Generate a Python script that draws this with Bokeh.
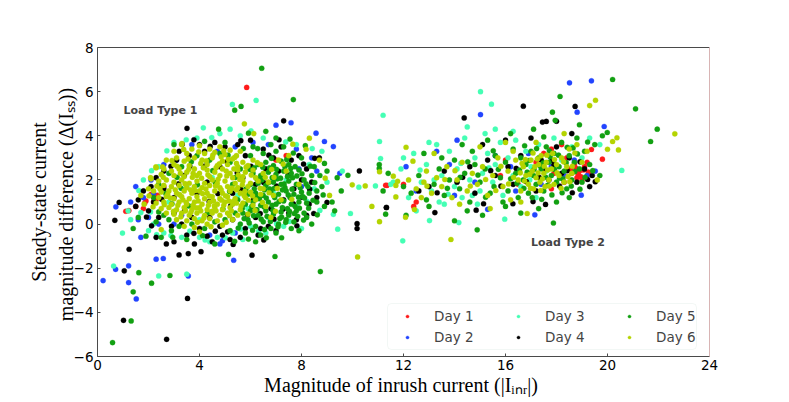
from bokeh.plotting import figure
from bokeh.models import (Range1d, FixedTicker, Legend, LegendItem, LinearAxis,
                          Label, BoxAnnotation)
from bokeh.embed import file_html
from bokeh.resources import INLINE

# ---------------- data ----------------
day_names = ["Day 1", "Day 2", "Day 3", "Day 4", "Day 5", "Day 6"]
day_colors = ["#ff1a1a", "#2244ff", "#44ffb4", "#000000", "#12a012", "#b4d400"]
x_ticks = [0, 4, 8, 12, 16, 20, 24]
y_ticks = [-6, -4, -2, 0, 2, 4, 6, 8]

day1_type1 = [(5.85, 6.19), (1.11, 0.58), (1.23, 0.61), (1.5, 0.8), (2.2, 1.2), (2.3, 1.1),
              (2.35, 1.3), (2.2, 1.0), (1.85, 0.95), (1.9, 1.05), (2.6, 1.7), (7.0, 2.9),
              (1.8, 0.7), (11.3, 1.76), (2.1, 1.35), (7.4, 3.1)]
day1_type2 = [(19.8, 2.94), (19.37, 3.38), (18.6, 2.3), (18.8, 2.1), (18.9, 2.4), (19.0, 2.0),
              (19.1, 2.6), (18.7, 2.7), (18.4, 3.0), (18.2, 3.6), (17.8, 3.4), (17.5, 3.2),
              (17.9, 2.3), (18.3, 1.9), (17.2, 2.8), (16.5, 1.8), (15.8, 2.2), (12.5, 1.0),
              (12.4, 0.8), (12.0, 1.8), (11.35, 1.75), (17.8, 1.6), (16.0, 2.9), (19.2, 2.8),
              (18.55, 2.5), (18.75, 2.55), (18.85, 2.25), (19.05, 2.45), (18.95, 2.15),
              (19.25, 2.35)]

day2_type1 = [(0.22, -2.56), (0.71, -2.05), (1.52, -3.39), (1.22, -2.65), (1.22, -1.89),
              (2.3, -1.59), (2.58, -1.56), (3.56, -2.35), (5.34, -1.64), (0.72, 0.78),
              (7.0, 4.48), (7.59, 4.59), (8.57, 4.12), (8.9, 3.74), (9.25, 3.51), (9.5, 2.3),
              (1.5, 1.7), (1.8, 1.2), (2.1, 2.0), (2.6, 2.7), (3.1, 2.9), (1.7, -0.6),
              (1.6, 0.2), (2.4, 0.0), (3.0, 0.0), (4.9, -0.75), (5.4, -0.4), (4.4, -0.5),
              (6.7, 3.6), (6.1, 3.7), (5.4, 3.5), (4.7, 3.3), (7.8, 3.4), (8.4, 3.0),
              (7.9, 2.5), (8.6, 2.4), (8.0, 1.7), (3.7, 3.6), (4.3, 2.8), (2.2, 1.4),
              (1.3, 1.0), (3.3, 0.4), (4.8, -0.9), (2.0, 0.3)]
day2_type2 = [(18.51, 6.4), (19.37, 6.49), (15.02, 4.96), (18.81, 5.07), (19.87, 4.42),
              (19.52, 2.4), (18.97, 1.31), (15.3, 0.67), (17.15, 0.42), (12.1, 2.6),
              (12.5, 1.5), (13.3, 3.3), (14.0, 1.3), (14.8, 1.9), (15.6, 3.1), (16.2, 2.6),
              (16.9, 3.2), (17.4, 1.8), (17.8, 2.6), (18.3, 2.2), (18.7, 2.9), (19.2, 2.2),
              (16.4, 1.5), (13.8, 2.7), (14.1, 3.8)]

day3_type1 = [(6.22, 5.6), (5.29, 5.42), (4.15, 4.36), (11.2, 4.93), (11.06, 3.74),
              (11.1, 2.97), (9.25, 0.44), (9.92, 0.48), (9.42, -0.23), (10.25, 1.67),
              (10.9, 1.73), (11.6, 1.9), (0.63, -1.9), (2.4, -2.35), (3.5, -2.27),
              (0.98, -0.41), (1.7, 0.52), (5.2, 4.3), (5.6, 4.0), (6.5, 3.9), (3.0, 3.7),
              (2.4, 2.6), (1.8, 2.0), (1.3, 0.2), (2.0, -0.3), (2.6, -0.4), (3.3, -0.6),
              (4.0, -0.6), (4.7, -0.6), (5.3, -0.4), (6.0, -0.1), (6.7, 0.3), (7.3, -0.1),
              (7.8, 0.8), (8.5, 1.6), (9.0, 1.9), (8.8, 3.3), (7.8, 3.6), (6.9, 1.4),
              (5.5, 1.3), (4.5, 2.1), (3.5, 1.7), (2.8, 1.0), (4.0, 0.2), (6.3, 2.7),
              (7.4, 2.0), (3.9, 3.9), (4.8, 4.1), (8.0, -0.2), (8.3, 2.7), (9.6, 2.4),
              (2.2, 0.0), (1.2, 0.6), (5.9, 0.7), (4.4, -0.8), (5.7, -0.7), (6.6, -0.4),
              (2.08, 0.55), (2.32, -0.48), (2.88, -0.52), (3.62, -0.32), (4.22, -0.72),
              (5.02, -0.62), (5.62, -0.22), (6.32, -0.32), (7.02, 0.02), (7.52, 0.12),
              (8.22, 1.02), (8.42, 3.42), (7.38, 3.72), (4.48, 3.92), (3.48, 3.82),
              (2.72, 3.32), (2.12, 2.42), (1.62, 1.52), (6.02, 4.22), (8.72, 0.62)]
day3_type2 = [(15.02, 6.0), (15.45, 5.43), (11.97, -0.76), (13.02, 0.16), (14.17, 0.07),
              (15.97, 0.22), (20.56, 2.43), (11.5, 1.8), (11.9, 2.5), (12.2, 1.2), (12.4, 3.2),
              (12.7, 1.9), (12.9, 2.7), (13.1, 1.5), (13.3, 3.6), (13.5, 2.2), (13.6, 0.9),
              (13.8, 3.3), (14.0, 1.7), (14.1, 2.5), (14.3, 1.2), (14.4, 3.9), (14.6, 2.0),
              (14.8, 3.0), (15.0, 1.5), (15.1, 2.3), (15.3, 3.2), (15.5, 1.9), (15.6, 2.7),
              (15.8, 3.7), (15.9, 1.3), (16.1, 3.0), (16.3, 2.2), (16.4, 3.8), (16.6, 1.7),
              (16.8, 3.3), (17.0, 2.6), (17.3, 3.6), (17.6, 2.4), (17.9, 3.9), (18.2, 2.9),
              (18.6, 3.5), (19.0, 3.0), (19.3, 3.9), (13.2, 2.0), (12.5, 0.6), (14.9, 0.9),
              (16.3, 4.2), (15.6, 4.3), (13.0, 3.7), (12.0, 3.0), (19.7, 3.6), (17.2, 1.2),
              (14.5, 4.4), (14.25, 2.75), (15.35, 2.55), (13.75, 1.35), (12.65, 2.45),
              (16.95, 2.0), (13.4, 1.0), (14.7, 1.3), (15.2, 4.1)]

day4_type1 = [(2.71, -5.22), (1.02, -4.36), (3.53, -3.37), (1.05, -2.12), (1.24, -1.14),
              (3.2, -1.4), (3.56, -1.34), (4.06, -1.25), (6.06, -1.41), (0.68, 0.17),
              (0.85, 0.98), (3.51, 4.34), (7.3, 4.68), (10.27, 2.41), (9.0, 0.98),
              (10.18, 0.02), (10.18, -0.2), (11.33, 0.75), (2.7, -0.9), (3.0, -0.8),
              (3.8, -0.9), (4.5, -0.8), (5.2, -0.7), (4.9, -0.5), (5.6, -0.6), (6.3, -0.5),
              (7.0, -0.3), (6.7, -0.1), (7.5, 0.5), (8.2, 0.4), (8.6, 1.2), (8.4, 1.9),
              (8.2, 2.5), (8.7, 3.0), (7.9, 3.1), (7.2, 3.5), (6.5, 3.4), (6.0, 3.8),
              (5.5, 3.6), (5.0, 3.5), (4.6, 3.7), (4.2, 3.3), (3.6, 3.1), (3.1, 2.9),
              (2.6, 2.4), (2.3, 2.1), (2.1, 1.7), (1.8, 1.5), (1.6, 1.1), (1.5, 0.8),
              (2.0, 0.6), (2.4, 0.3), (2.9, -0.1), (3.3, 0.0), (3.7, 0.3), (4.0, -0.2),
              (4.4, 0.3), (4.8, -0.1), (5.3, 0.2), (5.8, -0.2), (6.2, 0.3), (6.8, 0.7),
              (7.3, 1.1), (7.7, 1.6), (7.1, 2.4), (6.6, 2.5), (6.2, 1.8), (5.7, 2.1),
              (5.3, 1.4), (4.8, 2.6), (4.3, 1.9), (3.9, 1.4), (3.4, 2.2), (3.0, 1.2),
              (2.6, 1.6), (3.2, 3.3), (4.0, 3.6), (5.8, 3.1), (7.6, 2.9), (8.0, 2.0),
              (8.3, 0.9), (7.8, 0.2), (3.0, 0.5), (2.2, 1.0), (6.4, -0.2), (5.1, -0.35),
              (4.3, -0.55), (3.5, -0.5), (2.3, -0.6), (6.9, 3.0),
              (2.52, 1.12), (2.88, 2.62), (3.18, 1.82), (3.42, 0.62), (3.62, 2.62),
              (3.78, -0.42), (4.18, 2.62), (4.38, 1.02), (4.62, -0.32), (4.72, 1.38),
              (5.08, 2.82), (5.22, 0.82), (5.48, 2.32), (5.62, 1.58), (5.88, 0.42),
              (6.02, 2.62), (6.12, 1.12), (6.38, 0.48), (6.52, 1.88), (6.72, 3.12),
              (6.92, 0.22), (7.02, 1.72), (7.28, 0.68), (7.48, 2.22), (7.68, 0.92),
              (7.82, -0.08), (8.02, 1.22), (8.32, 1.58), (8.48, 0.48), (8.52, 2.98),
              (5.62, 3.78), (4.42, 3.52), (3.32, 3.62), (5.32, -0.92), (6.52, -0.72),
              (2.12, -0.08), (1.92, 0.32), (8.08, 2.72), (7.12, 3.82), (3.78, 3.82)]
day4_type2 = [(14.38, 4.81), (16.7, 5.34), (17.45, 4.62), (17.6, 4.65), (18.0, 4.66),
              (18.73, 5.33), (11.33, 0.75), (13.23, 0.52), (14.85, 0.63), (15.14, 0.92),
              (16.29, 0.92), (17.08, 1.02), (17.57, 0.89), (13.0, 1.7), (13.6, 2.4),
              (14.1, 1.9), (14.6, 2.6), (15.1, 3.6), (15.6, 2.2), (16.0, 3.8), (16.3, 1.8),
              (16.6, 3.1), (16.9, 2.3), (17.2, 1.5), (17.4, 2.9), (17.7, 2.0), (18.0, 3.5),
              (18.2, 2.3), (18.5, 3.0), (18.8, 1.9), (19.1, 2.5), (19.3, 1.7), (19.4, 2.2),
              (15.3, 2.9), (16.1, 2.6), (17.9, 2.7), (18.6, 4.1), (17.0, 3.9), (14.8, 1.4),
              (12.6, 1.5), (17.32, 2.12), (17.52, 2.48), (17.82, 2.88), (18.12, 1.72),
              (18.42, 2.42), (18.92, 2.82), (19.22, 2.02), (16.82, 1.92), (16.42, 2.52),
              (15.82, 1.72), (15.42, 2.42), (14.32, 2.12), (13.32, 1.42), (18.62, 1.42),
              (19.52, 1.92)]

day5_type1 = [(6.44, 7.06), (7.68, 5.64), (5.38, 5.16), (5.63, 5.33), (0.59, -5.37),
              (1.32, -4.39), (1.4, -3.07), (1.62, -2.2), (2.12, -2.68), (2.84, -2.33),
              (5.14, -1.37), (6.96, -1.47), (1.4, -0.2), (8.74, -2.15), (9.82, 2.21),
              (9.56, 1.5), (11.05, 2.7), (11.05, 2.52), (11.3, 0.45), (6.6, 4.2), (7.0, 3.9),
              (8.0, 3.0), (8.5, 2.6), (9.0, 2.4), (8.8, 1.7), (8.6, 1.0), (9.3, 0.6),
              (8.2, 0.3), (8.9, 0.8), (7.9, -0.3), (6.2, -0.8), (4.6, -0.9), (3.5, -0.7),
              (2.5, -0.6), (1.9, -0.55), (2.9, -0.3), (2.2, 1.2), (1.6, 0.3), (3.0, 3.6),
              (4.2, 3.75), (5.0, 3.7),
              (5.6, 0.0), (5.9, 0.2), (6.2, -0.1), (6.5, 0.1), (6.8, -0.2), (7.1, 0.0),
              (7.4, 0.2), (7.7, 0.1), (5.7, 0.5), (6.0, 0.6), (6.3, 0.4), (6.6, 0.6),
              (6.9, 0.45), (7.2, 0.55), (7.5, 0.4), (7.8, 0.6), (8.1, 0.5),
              (5.8, 0.9), (6.1, 1.0), (6.4, 0.85), (6.7, 1.0), (7.0, 0.9), (7.3, 1.05),
              (7.6, 0.9), (7.9, 1.0), (8.2, 0.95),
              (5.9, 1.35), (6.2, 1.4), (6.5, 1.3), (6.8, 1.45), (7.1, 1.35), (7.4, 1.5),
              (7.7, 1.35), (8.0, 1.45), (8.3, 1.4),
              (6.0, 1.8), (6.3, 1.85), (6.6, 1.75), (6.9, 1.9), (7.2, 1.8), (7.5, 1.95),
              (7.8, 1.8), (8.1, 2.0),
              (6.1, 2.3), (6.4, 2.2), (6.7, 2.35), (7.0, 2.25), (7.3, 2.4), (7.6, 2.3),
              (7.9, 2.45),
              (6.3, 2.7), (6.6, 2.8), (6.9, 2.65), (7.2, 2.85), (7.5, 2.7), (6.0, 3.1),
              (6.5, 3.2), (7.0, 3.3),
              (5.75, 0.25), (6.05, 0.8), (6.35, 1.15), (6.65, 0.35), (6.95, 1.2),
              (7.25, 0.75), (7.55, 1.2), (7.85, 0.35), (6.15, 1.6), (6.75, 1.6),
              (7.35, 1.65), (7.95, 1.65), (6.45, 2.0), (7.05, 2.05), (7.65, 2.1),
              (5.5, 1.1), (5.4, 0.5), (5.3, 1.8), (5.0, 0.2), (4.6, 0.1), (4.2, -0.2),
              (3.7, 0.0), (3.2, -0.1), (2.8, 0.2), (5.2, -0.3), (5.8, -0.4), (6.4, -0.5),
              (7.0, -0.4), (7.6, -0.2), (8.4, 0.0), (8.6, 1.5), (8.4, 2.2),
              (5.6, 2.5), (5.2, 2.8), (4.8, 3.2), (4.4, 2.9), (3.9, 3.1), (3.3, 2.6),
              (2.8, 2.3), (2.4, 1.8), (2.6, 0.4), (2.3, 0.1), (7.3, 3.5), (6.8, 3.6),
              (5.95, 0.05), (6.55, -0.25), (7.15, 0.25), (7.45, 0.7), (6.25, 0.65),
              (6.85, 0.85), (7.75, 0.8), (8.05, 1.25), (7.25, 1.55), (6.55, 1.55),
              (6.85, 2.1), (7.45, 2.15), (6.25, 2.05), (8.25, 1.7), (6.15, 2.55),
              (6.75, 2.55), (7.35, 2.6), (7.75, 2.6),
              (5.52, -0.18), (5.68, 0.72), (5.82, 1.58), (5.97, 2.48), (6.08, -0.28),
              (6.12, 0.38), (6.22, 1.22), (6.33, 1.98), (6.42, 0.22), (6.48, 2.58),
              (6.53, 0.78), (6.62, 1.18), (6.71, 1.88), (6.78, 0.12), (6.82, 2.98),
              (6.88, 0.62), (6.93, 1.62), (7.02, 2.48), (7.08, -0.12), (7.12, 1.02),
              (7.18, 2.08), (7.22, 0.32), (7.32, 1.82), (7.38, 0.08), (7.42, 2.92),
              (7.48, 1.32), (7.53, 0.58), (7.58, 2.52), (7.63, 1.58), (7.72, 0.48),
              (7.82, 2.18), (7.88, 1.22), (7.92, 0.72), (8.02, 2.28), (8.08, 0.18),
              (8.12, 1.18), (8.18, 1.82), (8.28, 0.72), (8.35, 2.62), (8.45, 1.08),
              (8.52, 1.88), (8.62, 0.42), (8.72, 2.2), (8.85, 1.32), (5.42, 2.12),
              (5.18, 1.48), (4.92, 0.68), (4.62, 1.88), (4.32, 0.52), (3.92, 1.78),
              (3.58, 0.82), (3.28, 1.62), (2.92, 0.92), (2.68, 1.38), (3.12, 2.12),
              (3.68, 2.82), (4.52, 2.42), (5.12, 3.12), (5.72, 3.42), (6.28, 3.42),
              (6.62, -0.62), (7.22, -0.62), (5.92, -0.68), (5.38, -0.78), (4.12, -0.52),
              (2.95, -0.6), (2.4, 0.55), (8.9, 2.75), (9.2, 1.0), (9.4, 2.1), (7.55, 3.85),
              (5.92, 4.12), (4.75, 4.3), (6.1, 3.5), (7.68, 3.22), (8.15, 3.55)]
day5_type2 = [(18.14, 5.78), (20.2, 6.55), (21.1, 5.22), (21.95, 4.3), (21.69, 3.74),
              (19.99, 4.15), (17.84, 5.07), (17.88, 0.05), (14.89, -0.26), (14.0, 0.15),
              (12.3, 1.4), (12.6, 2.2), (12.9, 1.1), (13.2, 1.8), (13.4, 2.5), (13.6, 1.3),
              (13.8, 2.0), (14.0, 2.9), (14.2, 1.6), (14.4, 2.3), (14.6, 1.0), (14.8, 2.7),
              (15.0, 1.9), (15.2, 2.5), (15.4, 1.4), (15.6, 3.1), (15.8, 2.1), (16.0, 2.8),
              (16.1, 1.5), (16.3, 3.4), (16.4, 2.3), (16.5, 1.2), (16.6, 3.0), (16.7, 2.0),
              (16.8, 2.7), (16.9, 1.4), (17.0, 3.3), (17.1, 2.2), (17.2, 1.8), (17.3, 3.0),
              (17.4, 2.5), (17.5, 1.5), (17.6, 3.5), (17.7, 2.8), (17.8, 2.2), (17.9, 3.2),
              (18.0, 1.9), (18.1, 2.6), (18.2, 3.7), (18.3, 2.4), (18.4, 1.6), (18.5, 3.1),
              (18.6, 2.0), (18.7, 2.8), (18.8, 3.9), (18.9, 2.5), (19.0, 1.9), (19.1, 3.3),
              (19.3, 2.7), (19.5, 3.6), (19.7, 2.2), (19.8, 4.0), (12.1, 0.4), (12.0, 1.7),
              (13.0, 0.8), (14.3, 3.6), (15.3, 3.8), (16.0, 0.8), (16.6, 0.5), (17.3, 0.7),
              (18.0, 1.0), (18.5, 1.2), (13.5, 3.0), (14.7, 3.3), (15.9, 1.0), (16.2, 4.1),
              (17.1, 4.3), (17.95, 4.7), (18.9, 4.5), (12.8, 3.2), (11.4, 2.3), (11.2, 1.5),
              (15.1, 0.4), (14.5, 0.6), (17.35, 2.65), (17.65, 1.75), (16.85, 2.35),
              (18.25, 2.05), (16.45, 1.85), (17.75, 3.05), (16.2, 2.05), (17.05, 1.2),
              (18.65, 3.45), (15.55, 1.7), (17.5, 3.95), (16.75, 3.55),
              (16.55, 2.45), (16.72, 1.62), (16.92, 2.88), (17.12, 2.48), (17.22, 3.42),
              (17.42, 1.12), (17.48, 2.78), (17.58, 2.12), (17.72, 3.32), (17.82, 1.32),
              (17.92, 2.48), (18.08, 3.12), (18.12, 2.08), (18.22, 1.42), (18.38, 2.78),
              (18.42, 3.48), (18.58, 1.72), (18.72, 2.38), (18.82, 3.18), (18.92, 1.58),
              (19.12, 2.12), (19.22, 3.72), (19.42, 2.42), (15.72, 2.48), (15.52, 3.32),
              (15.22, 1.22), (14.92, 2.22), (14.52, 2.82), (14.22, 2.12), (13.72, 1.62)]

day6_type1 = [(3.3, 3.6), (3.7, 3.4), (4.0, 3.55), (4.4, 3.4), (4.8, 3.5), (5.2, 3.35),
              (5.6, 3.3), (3.5, 3.2), (4.2, 3.2), (4.6, 3.25), (5.0, 3.15), (5.45, 3.1),
              (2.7, 2.9), (3.1, 3.0), (3.4, 2.85), (3.8, 3.0), (4.1, 2.9), (4.5, 3.0),
              (4.9, 2.85), (5.3, 2.95), (5.7, 2.8), (6.1, 2.9), (3.0, 2.7), (3.6, 2.65),
              (4.3, 2.7), (4.7, 2.65), (5.1, 2.7), (5.5, 2.6), (5.9, 2.65), (6.4, 2.7),
              (2.3, 2.55), (2.6, 2.5), (2.9, 2.4), (3.2, 2.5), (3.5, 2.35), (3.8, 2.5),
              (4.0, 2.3), (4.3, 2.45), (4.6, 2.35), (4.9, 2.5), (5.2, 2.3), (5.5, 2.45),
              (5.8, 2.35), (6.1, 2.45), (6.5, 2.3), (2.5, 2.25), (3.0, 2.2), (3.4, 2.15),
              (3.9, 2.2), (4.4, 2.15), (4.8, 2.2), (5.3, 2.1), (5.7, 2.15), (6.2, 2.1),
              (2.1, 2.05), (2.4, 1.95), (2.7, 2.0), (3.0, 1.9), (3.3, 2.0), (3.6, 1.85),
              (3.9, 1.95), (4.2, 1.85), (4.5, 2.0), (4.7, 1.85), (5.0, 1.95), (5.4, 1.85),
              (5.7, 1.95), (6.0, 1.85), (6.3, 1.95), (6.7, 1.9), (2.6, 1.75), (2.9, 1.7),
              (3.2, 1.75), (3.5, 1.65), (3.8, 1.7), (4.1, 1.65), (4.4, 1.75), (4.8, 1.65),
              (5.1, 1.7), (5.5, 1.65), (5.9, 1.7), (6.5, 1.6),
              (2.2, 1.5), (2.5, 1.45), (2.8, 1.5), (3.1, 1.4), (3.4, 1.5), (3.7, 1.4),
              (4.0, 1.5), (4.3, 1.4), (4.6, 1.5), (4.9, 1.4), (5.2, 1.5), (5.6, 1.4),
              (6.0, 1.45), (6.4, 1.35), (2.4, 1.2), (2.7, 1.25), (3.0, 1.15), (3.3, 1.25),
              (3.6, 1.15), (3.9, 1.25), (4.2, 1.15), (4.5, 1.25), (4.8, 1.15), (5.1, 1.25),
              (5.4, 1.15), (5.8, 1.2), (6.2, 1.1), (6.9, 1.3),
              (2.3, 0.95), (2.6, 1.0), (2.9, 0.9), (3.2, 1.0), (3.5, 0.9), (3.8, 1.0),
              (4.1, 0.9), (4.4, 1.0), (4.7, 0.9), (5.0, 1.0), (5.3, 0.9), (5.7, 0.95),
              (6.1, 0.85), (2.5, 0.7), (2.8, 0.75), (3.1, 0.65), (3.4, 0.75), (3.7, 0.65),
              (4.0, 0.75), (4.3, 0.65), (4.6, 0.75), (4.9, 0.65), (5.2, 0.75), (5.6, 0.65),
              (6.6, 0.8),
              (2.7, 0.5), (3.0, 0.45), (3.3, 0.5), (3.6, 0.4), (3.9, 0.5), (4.2, 0.4),
              (4.5, 0.5), (4.8, 0.4), (5.1, 0.5), (5.5, 0.4), (5.9, 0.45), (3.1, 0.2),
              (3.5, 0.15), (3.8, 0.25), (4.1, 0.15), (4.4, 0.25), (4.7, 0.15), (5.3, 0.2),
              (3.4, -0.1), (3.8, -0.15), (4.3, 0.0), (4.9, -0.05), (2.5, -0.25), (4.0, -0.35),
              (1.83, 0.9), (2.29, 2.59), (2.55, 2.59), (2.08, 2.1), (3.31, 3.65), (5.76, 4.54),
              (6.13, 4.1), (7.66, 3.62), (8.31, 3.89), (8.18, 3.39), (8.93, 2.08), (7.1, 2.9),
              (7.4, 2.4), (7.9, 1.8), (7.2, 1.1), (6.8, 0.3), (7.5, 3.1), (3.0, 3.3),
              (2.0, 1.6), (1.7, 1.3), (9.99, 1.78), (10.5, 1.73), (10.76, 0.8), (11.06, 0.11),
              (11.06, 2.37), (11.7, 1.75), (11.7, 1.23), (10.2, -1.49), (8.7, 2.9), (9.1, 1.3),
              (2.45, 1.6), (2.75, 1.35), (3.05, 1.55), (3.35, 1.1), (3.65, 1.55), (3.95, 1.05),
              (4.25, 1.6), (4.55, 1.05), (4.85, 1.55), (5.15, 1.05), (5.45, 1.55),
              (5.75, 1.3), (3.25, 2.3), (3.75, 2.3), (4.15, 2.55), (4.65, 2.55), (5.05, 2.4),
              (5.45, 2.75), (4.05, 2.75), (3.55, 2.95), (4.85, 3.05), (5.35, 2.5),
              (3.15, 0.85), (3.75, 0.85), (4.35, 0.85), (4.95, 0.85), (5.45, 0.95),
              (3.45, 0.6), (4.05, 0.6), (4.65, 0.6), (5.25, 0.6),
              (2.33, 1.72), (2.58, 2.12), (2.86, 1.18), (3.12, 2.62), (3.27, 0.33),
              (3.43, 1.83), (3.58, 2.48), (3.66, 0.52), (3.83, 1.52), (3.97, 3.27),
              (4.08, 2.08), (4.17, 0.28), (4.27, 2.87), (4.38, 1.27), (4.52, 3.12),
              (4.58, 0.83), (4.73, 2.03), (4.87, 1.08), (4.95, 3.32), (5.07, 2.18),
              (5.18, 0.38), (5.28, 1.63), (5.38, 3.02), (5.52, 2.22), (5.63, 0.82),
              (5.68, 1.78), (5.83, 2.58), (5.92, 1.08), (6.03, 2.22), (6.18, 0.62),
              (6.27, 2.78), (6.38, 1.62), (6.47, 0.98), (6.58, 2.12), (6.73, 1.42),
              (6.83, 2.48), (2.92, 2.88), (3.22, 1.33), (3.48, 0.98), (3.72, 2.12),
              (3.88, 0.73), (4.12, 1.38), (4.33, 2.23), (4.48, 0.58), (4.63, 1.73),
              (4.78, 2.73), (5.02, 1.28), (5.13, 2.93), (5.33, 1.03), (5.58, 2.02),
              (5.78, 1.48), (6.08, 1.28), (2.62, 0.88), (2.98, 0.58), (3.38, 3.38),
              (3.92, 0.08), (4.45, -0.12), (5.05, 0.08), (2.18, 0.78), (2.02, 1.28),
              (6.92, 2.12), (7.05, 1.62), (7.28, 2.72), (7.62, 1.12), (6.98, 0.58)]
day6_type2 = [(11.6, 2.17), (11.77, 1.94), (12.1, 3.48), (12.37, 2.85), (12.43, 0.66),
              (12.08, 0.31), (13.86, -0.7), (12.2, 2.0), (12.5, 1.6), (12.8, 1.9),
              (12.9, 2.4), (13.1, 1.4), (13.3, 2.1), (13.5, 1.7), (13.7, 2.6), (13.9, 1.2),
              (14.1, 2.0), (14.3, 2.8), (14.5, 1.5), (14.7, 2.3), (14.9, 1.8), (15.1, 2.6),
              (15.3, 1.3), (15.5, 2.2), (15.7, 3.0), (15.9, 1.7), (16.1, 2.4), (16.2, 1.1),
              (16.4, 2.9), (16.5, 2.0), (16.6, 1.5), (16.7, 2.6), (16.8, 2.2), (16.9, 1.8),
              (17.0, 2.9), (17.05, 2.4), (17.1, 1.6), (17.2, 2.1), (17.3, 2.7), (17.35, 1.9),
              (17.4, 3.1), (17.5, 2.3), (17.55, 1.7), (17.6, 2.8), (17.7, 2.0), (17.8, 2.5),
              (17.85, 3.2), (17.9, 1.8), (18.0, 2.7), (18.1, 2.2), (18.2, 3.0), (18.3, 1.9),
              (18.4, 2.6), (18.5, 3.4), (18.6, 2.3), (18.8, 3.6), (19.0, 2.8), (19.2, 3.3),
              (19.53, 5.61), (19.3, 5.37), (20.37, 3.91), (20.2, 3.74), (20.43, 3.36),
              (20.0, 3.39), (22.64, 4.09), (16.3, 3.3), (15.4, 0.7), (14.2, 0.9), (12.7, 1.2),
              (13.2, 3.2), (15.0, 3.5), (16.0, 3.7), (17.2, 3.7), (18.3, 4.1), (16.6, 1.0),
              (16.85, 0.48), (19.6, 2.0), (16.95, 2.25), (17.15, 2.6), (17.45, 2.05),
              (17.65, 2.45), (16.75, 1.95), (17.25, 2.95), (16.65, 2.75), (18.45, 2.15),
              (16.58, 2.32), (16.78, 2.92), (16.98, 1.62), (17.08, 3.22), (17.28, 2.32),
              (17.38, 1.52), (17.52, 2.62), (17.62, 3.12), (17.72, 1.72), (17.92, 2.92),
              (18.02, 2.32), (18.18, 1.62), (18.28, 2.82), (18.52, 1.92), (18.62, 2.62),
              (18.72, 3.22), (16.32, 2.12), (16.12, 1.82), (15.82, 2.62), (15.62, 1.52),
              (15.22, 2.02), (14.62, 1.72), (14.02, 2.42), (13.62, 2.02), (12.92, 1.72)]

day_points = [day1_type1 + day1_type2, day2_type1 + day2_type2, day3_type1 + day3_type2,
              day4_type1 + day4_type2, day5_type1 + day5_type2, day6_type1 + day6_type2]

# ---------------- figure ----------------
p = figure(frame_width=612, frame_height=309,
           x_range=Range1d(0, 24), y_range=Range1d(-6, 8),
           output_backend="svg", toolbar_location=None,
           min_border_left=97, min_border_top=47, min_border_right=50,
           min_border_bottom=10)
p.xgrid.visible = False
p.ygrid.visible = False
p.outline_line_color = None
p.background_fill_color = "white"

axis_col = "#4a4a4a"
for ax in (p.xaxis[0], p.yaxis[0]):
    ax.axis_line_color = axis_col
    ax.major_tick_line_color = axis_col
    ax.major_tick_in = 3
    ax.major_tick_out = 0
    ax.minor_tick_line_color = None
    ax.major_label_text_font = "DejaVu Sans"
    ax.major_label_text_font_size = "13.5px"
    ax.major_label_text_color = "black"
    ax.axis_label_text_font = "Liberation Serif"
    ax.axis_label_text_font_size = "20px"
    ax.axis_label_text_font_style = "normal"
    ax.axis_label_text_color = "black"

p.xaxis.ticker = FixedTicker(ticks=x_ticks)
p.yaxis.ticker = FixedTicker(ticks=y_ticks)
p.xaxis.major_label_standoff = 3
p.yaxis.major_label_standoff = 4
p.xaxis.axis_label = "Magnitude of inrush current  (|Iᵢₙᵣ|)"
p.xaxis.axis_label_standoff = 1
p.yaxis.axis_label = "Steady-state current\nmagnitude difference  (Δ(Iₛₛ))"
p.yaxis.axis_label_standoff = -6

top_axis = LinearAxis(ticker=FixedTicker(ticks=[]), axis_line_color="#4a4a4a",
                      major_tick_line_color=None, minor_tick_line_color=None,
                      major_label_text_font_size="0px")
right_axis = LinearAxis(ticker=FixedTicker(ticks=[]), axis_line_color="#d8b4b4",
                        major_tick_line_color=None, minor_tick_line_color=None,
                        major_label_text_font_size="0px")
p.add_layout(top_axis, "above")
p.add_layout(right_axis, "right")

renderers = []
for name, col, pts in zip(day_names, day_colors, day_points):
    xs = [pt[0] for pt in pts]
    ys = [pt[1] for pt in pts]
    r = p.scatter(xs, ys, size=5.2, fill_color=col, line_color=col, line_width=0.3)
    renderers.append(r)

# annotations
p.add_layout(Label(x=1.02, y=5.15, text="Load Type 1", text_font="DejaVu Sans",
                   text_font_size="11px", text_font_style="bold",
                   text_baseline="middle", text_align="left"))
p.add_layout(Label(x=17.0, y=-0.83, text="Load Type 2", text_font="DejaVu Sans",
                   text_font_size="11px", text_font_style="bold",
                   text_baseline="middle", text_align="left"))

# legend frame + three columns
p.add_layout(BoxAnnotation(left=290, right=599, bottom=7, top=53,
                           left_units="screen", right_units="screen",
                           top_units="screen", bottom_units="screen",
                           fill_color="white", fill_alpha=0.85,
                           line_color="#d4e6df", line_width=1, border_radius=4))
col_x = [306, 417, 528]
for c in range(3):
    items = [LegendItem(label=day_names[2 * c], renderers=[renderers[2 * c]]),
             LegendItem(label=day_names[2 * c + 1], renderers=[renderers[2 * c + 1]])]
    leg = Legend(items=items, location=(col_x[c], 8.5), orientation="vertical",
                 glyph_width=8, glyph_height=8, label_standoff=23, label_height=21,
                 spacing=0, padding=0, margin=0, border_line_color=None,
                 background_fill_alpha=0, label_text_font="DejaVu Sans",
                 label_text_font_size="13.5px")
    p.add_layout(leg)

open("out.html", "w").write(file_html(p, INLINE))
